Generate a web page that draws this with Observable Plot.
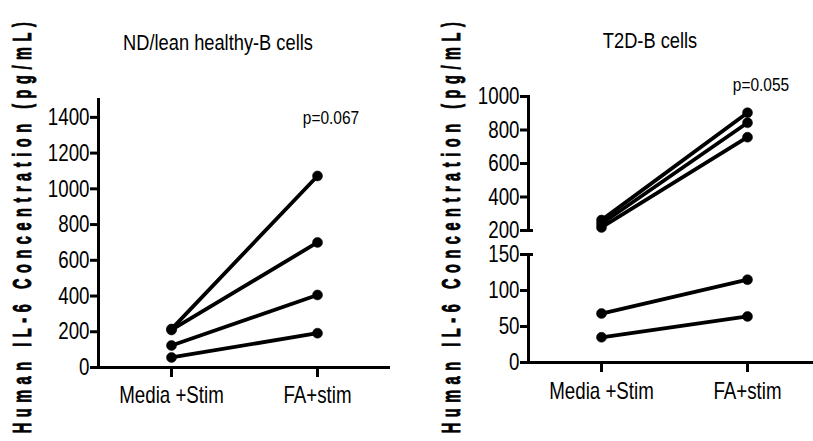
<!DOCTYPE html>
<html>
<head>
<meta charset="utf-8">
<script src="https://cdn.jsdelivr.net/npm/d3@7"></script>
<script src="https://cdn.jsdelivr.net/npm/@observablehq/plot@0.6"></script>
<style>
  html, body { margin: 0; padding: 0; background: #fff; overflow: hidden; }
  #wrap { position: relative; width: 813px; height: 441px; overflow: hidden; background: #fff; }
  #wrap > svg, #wrap > figure { position: absolute; top: 0; margin: 0; }
  .txt { position: absolute; white-space: nowrap; color: #000; line-height: 1.15;
         font-family: "Liberation Sans", Arial, sans-serif; }
  .ylab { font-weight: bold; font-size: 25px; letter-spacing: 9.6px; -webkit-text-stroke: 0.9px #000;
          transform: translate(-50%, -50%) rotate(-90deg) scaleX(0.58); }
</style>
</head>
<body>
<div id="wrap"></div>
<script>
// ---------- data ----------
const groups = ["Media +Stim", "FA+stim"];

// ND/lean healthy-B cells (pg/mL), one entry per donor
const ndMedia = [215, 210, 123, 56];
const ndFA    = [1072, 700, 406, 192];
const ndTicks = [0, 200, 400, 600, 800, 1000, 1200, 1400];

// T2D-B cells (pg/mL), one entry per donor
const t2dMedia = [262, 240, 218, 68, 35];
const t2dFA    = [903, 843, 757, 115, 64];
const t2dUpperTicks = [200, 400, 600, 800, 1000];
const t2dLowerTicks = [0, 50, 100, 150];
const t2dBreak = 200; // values >= break go to the upper segment

const titles = ["ND/lean healthy-B cells", "T2D-B cells"];
const pvals = ["p=0.067", "p=0.055"];
const yLabel = "Human IL-6 Concentration (pg/mL)";

// ---------- build tables ----------
function rowsFrom(media, fa) {
  const out = [];
  media.forEach((v, i) => {
    out.push({donor: i, group: groups[0], value: v});
    out.push({donor: i, group: groups[1], value: fa[i]});
  });
  return out;
}
const ndRows = rowsFrom(ndMedia, ndFA);
const t2dRows = rowsFrom(t2dMedia, t2dFA);
const t2dUpper = t2dRows.filter(d => t2dMedia[d.donor] >= t2dBreak);
const t2dLower = t2dRows.filter(d => t2dMedia[d.donor] < t2dBreak);

const font = '"Liberation Sans", Arial, sans-serif';
const style = {fontFamily: font, fontSize: "24px", color: "#000", background: "transparent", overflow: "visible"};
const xOpt = {type: "point", domain: groups, padding: 0.5, align: 0.5};
const LW = 3.8, AW = 3;
const fmt = d => String(d);

function dataMarks(rows) {
  return [
    Plot.line(rows, {x: "group", y: "value", z: "donor", stroke: "#000", strokeWidth: LW}),
    Plot.dot(rows, {x: "group", y: "value", r: 5, fill: "#000", stroke: "#000", strokeWidth: 0.5})
  ];
}

// horizontally condense every text of an svg (svg must be in the DOM)
function condense(svg, s) {
  svg.querySelectorAll("text").forEach(t => {
    const len = t.getComputedTextLength();
    if (len > 0) {
      t.setAttribute("textLength", (len * s).toFixed(2));
      t.setAttribute("lengthAdjust", "spacingAndGlyphs");
    }
  });
  return svg;
}

const wrap = document.getElementById("wrap");

// ---------- left panel ----------
const left = Plot.plot({
  width: 410, height: 441,
  marginLeft: 98, marginRight: 20, marginTop: 99, marginBottom: 74,
  style,
  x: xOpt,
  y: {domain: [0, 1500]},
  marks: [
    Plot.frame({anchor: "left", stroke: "#000", strokeWidth: AW}),
    Plot.ruleY([0], {stroke: "#000", strokeWidth: AW}),
    Plot.axisY({ticks: ndTicks, tickFormat: fmt, tickSize: 8, tickPadding: 1, strokeWidth: AW, label: null, fill: "#000"}),
    Plot.axisX({tickSize: 10, tickPadding: 8, strokeWidth: AW, label: null, fill: "#000"}),
    ...dataMarks(ndRows)
  ]
});
left.style.left = "0px";
wrap.appendChild(left);
condense(left, 0.78);

// ---------- right panel, upper segment ----------
const upper = Plot.plot({
  width: 390, height: 441,
  marginLeft: 98, marginRight: 0, marginTop: 96, marginBottom: 211,
  style,
  x: {...xOpt, axis: null},
  y: {domain: [200, 1000]},
  marks: [
    Plot.frame({anchor: "left", stroke: "#000", strokeWidth: AW}),
    Plot.axisY({ticks: t2dUpperTicks, tickFormat: fmt, tickSize: 8, tickPadding: 1, strokeWidth: AW, label: null, fill: "#000"}),
    Plot.axisY({ticks: [t2dUpperTicks[0]], tickSize: 12, dx: 5, strokeWidth: AW, tickFormat: () => "", label: null}),
    ...dataMarks(t2dUpper)
  ]
});
upper.style.left = "430px";
wrap.appendChild(upper);
condense(upper, 0.78);

// ---------- right panel, lower segment ----------
const lower = Plot.plot({
  width: 390, height: 441,
  marginLeft: 98, marginRight: 0, marginTop: 254, marginBottom: 79,
  style,
  x: xOpt,
  y: {domain: [0, 150]},
  marks: [
    Plot.frame({anchor: "left", stroke: "#000", strokeWidth: AW}),
    Plot.ruleY([0], {stroke: "#000", strokeWidth: AW}),
    Plot.axisY({ticks: t2dLowerTicks, tickFormat: fmt, tickSize: 8, tickPadding: 1, strokeWidth: AW, label: null, fill: "#000"}),
    Plot.axisY({ticks: [t2dLowerTicks[t2dLowerTicks.length - 1]], tickSize: 12, dx: 5, strokeWidth: AW, tickFormat: () => "", label: null}),
    Plot.axisX({tickSize: 10, tickPadding: 9, strokeWidth: AW, label: null, fill: "#000"}),
    ...dataMarks(t2dLower)
  ]
});
lower.style.left = "430px";
wrap.appendChild(lower);
condense(lower, 0.78);

// ---------- text annotations ----------
function addText(str, cls, css) {
  const d = document.createElement("div");
  d.className = "txt " + cls;
  d.textContent = str;
  Object.assign(d.style, css);
  wrap.appendChild(d);
  return d;
}
addText(titles[0], "", {left: "218px", top: "30px", fontSize: "22px", transform: "translateX(-50%) scaleX(0.83)"});
addText(titles[1], "", {left: "650px", top: "28px", fontSize: "22px", transform: "translateX(-50%) scaleX(0.83)"});
addText(pvals[0], "", {left: "331px", top: "108px", fontSize: "18px", transform: "translateX(-50%) scaleX(0.86)"});
addText(pvals[1], "", {left: "761px", top: "75px", fontSize: "18px", transform: "translateX(-50%) scaleX(0.86)"});
addText(yLabel, "ylab", {left: "22px", top: "225px"});
addText(yLabel, "ylab", {left: "451px", top: "225px"});
</script>
</body>
</html>
